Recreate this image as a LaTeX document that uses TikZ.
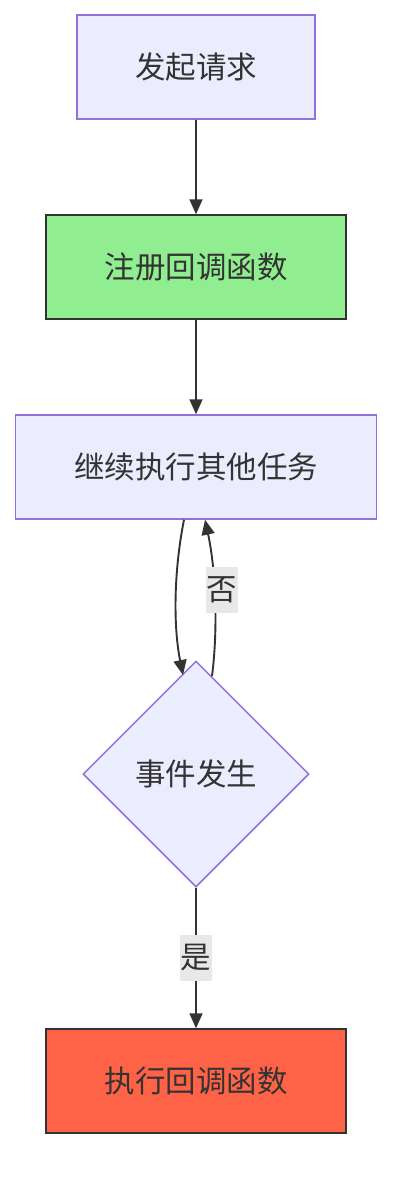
\documentclass[tikz,border=0pt]{standalone}
\usepackage{fontspec}
\setmainfont{Noto Sans CJK SC}
\usepackage{xcolor}
\usepackage{tikz}
\usetikzlibrary{arrows.meta, shapes.geometric}

\definecolor{boxfill}{HTML}{ECECFF}
\definecolor{boxline}{HTML}{9370DB}
\definecolor{darkline}{HTML}{333333}
\definecolor{regfill}{HTML}{90EE90}
\definecolor{execfill}{HTML}{FF6347}
\definecolor{labelfill}{HTML}{E8E8E8}

\tikzset{
    flowbox/.style={draw=boxline, fill=boxfill, line width=1.5pt, minimum height=104pt, text=darkline, font=\fontsize{30.5}{36}\selectfont},
    darkbox/.style={flowbox, draw=darkline},
    flowline/.style={draw=darkline, line width=1.9pt, -{Triangle[length=15pt, width=13pt]}},
    edgelabel/.style={fill=labelfill, text=darkline, inner sep=1pt, minimum width=31pt, minimum height=46pt, font=\fontsize{30.5}{36}\selectfont}
}

\begin{document}
\begin{tikzpicture}[x=1pt, y=-1pt]

    \useasboundingbox (0,0) rectangle (408,1196);

    \node[flowbox, minimum width=238pt] (req) at (196,67) {发起请求};
    \node[darkbox, fill=regfill, minimum width=300pt] (reg) at (196,267) {注册回调函数};
    \node[flowbox, minimum width=361pt] (task) at (196,467) {继续执行其他任务};
    \node[flowbox, diamond, inner sep=0pt, minimum width=226pt, minimum height=226pt] (event) at (196,774) {事件发生};
    \node[darkbox, fill=execfill, minimum width=300pt] (exec) at (196,1081) {执行回调函数};

    \coordinate (taskL) at ([xshift=-12pt]task.south);
    \coordinate (taskR) at ([xshift=9pt]task.south);
    \coordinate (eventL) at (183,675);
    \coordinate (eventR) at (212,676);

    \draw[flowline] (req) -- (reg);
    \draw[flowline] (reg) -- (task);
    \draw[flowline] (taskL) .. controls +(-10,50) and +(-10,-50) .. (eventL);
    \draw[flowline] (eventR) .. controls +(6,-46) and +(11,51) .. (taskR);
    \draw[flowline] (event) -- (exec);

    \node[edgelabel] (no) at (222,590) {否};
    \node[edgelabel] (yes) at (196,958) {是};
\end{tikzpicture}
\end{document}
